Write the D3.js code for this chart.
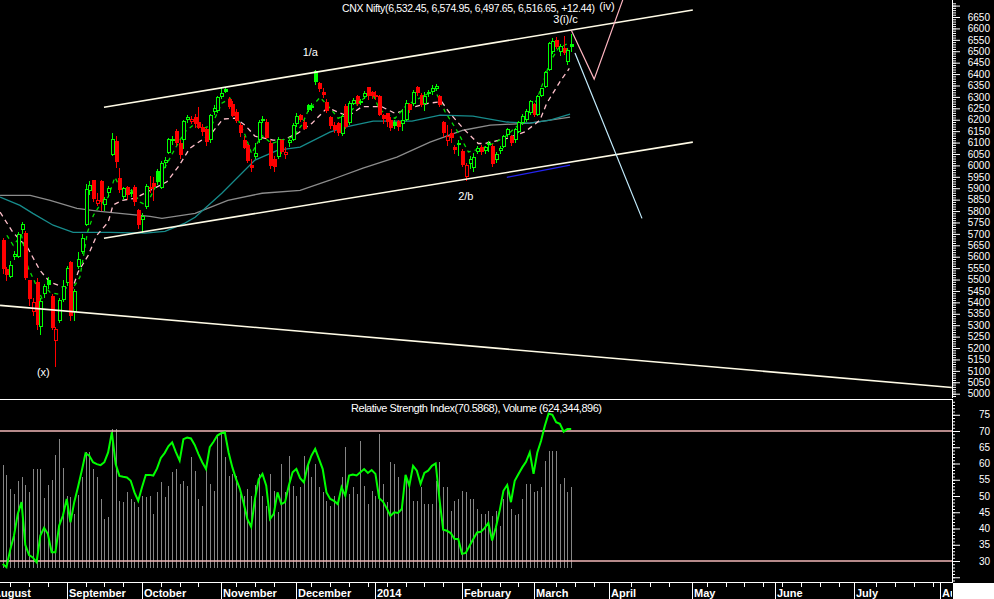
<!DOCTYPE html>
<meta charset="utf-8">
<script src="https://d3js.org/d3.v7.min.js"></script>
<style>
  body { margin: 0; background: #000; }
  text { font-family: "Liberation Sans", Arial, sans-serif; }
</style>
<div id="chart"></div>
<script>

// daily bars, Aug 6 2013 .. Mar 18 2014 (index 0..151)
var open = [5672,5545,5511,5600,5600,5718,5706,5497,5357,5490,
 5290,5435,5500,5430,5230,5320,5410,5485,5575,5357,
 5555,5621,5740,5890,5935,5833,5930,5826,5877,6045,
 6106,5945,5862,5904,5875,5905,5804,5762,5818,5895,
 5925,5975,5900,6010,6055,6105,6150,6100,6110,6198,
 6192,6212,6190,6170,6160,6110,6235,6240,6300,6335,
 6290,6270,6235,6175,6110,6090,6000,6035,6110,6195,
 6190,6100,6030,6035,6110,6045,6096,6110,6180,6220,
 6191,6264,6250,6415,6362,6322,6279,6210,6176,6184,
 6137,6260,6184,6271,6303,6274,6298,6344,6320,6310,
 6303,6220,6228,6198,6191,6195,6180,6201,6267,6268,
 6344,6308,6267,6313,6322,6333,6303,6191,6105,6140,
 6081,6100,6062,5950,6008,5990,6058,6081,6062,6089,
 6086,6023,6062,6081,6132,6128,6111,6147,6184,6198,
 6228,6271,6220,6305,6344,6418,6498,6549,6498,6515,
 6455,6532.45];

var high = [5680,5555,5580,5625,5710,5754,5712,5500,5420,5505,
 5420,5480,5510,5435,5290,5420,5497,5560,5580,5460,
 5620,5700,5920,5930,5935,5880,5935,5860,5910,6142,
 6130,5990,5905,5910,5895,5912,5810,5790,5920,5952,
 5950,5985,6018,6037,6120,6130,6160,6110,6200,6220,
 6218,6225,6255,6180,6165,6225,6265,6305,6342,6340,
 6300,6280,6245,6185,6130,6095,6030,6100,6200,6215,
 6205,6110,6040,6125,6115,6080,6115,6185,6230,6225,
 6200,6270,6274,6420,6365,6340,6290,6215,6190,6190,
 6225,6270,6280,6295,6310,6290,6325,6345,6328,6325,
 6310,6225,6230,6210,6200,6200,6245,6285,6275,6330,
 6346,6315,6320,6330,6350,6355,6310,6195,6175,6160,
 6090,6110,6070,6010,6040,6055,6085,6090,6085,6108,
 6095,6060,6085,6135,6165,6135,6165,6195,6225,6245,
 6285,6275,6310,6340,6412,6540,6560,6562,6530,6565,
 6515,6574.95];

var low = [5525,5494,5505,5585,5595,5700,5500,5386,5340,5280,
 5255,5420,5460,5280,5118,5310,5400,5470,5320,5318,
 5545,5610,5735,5870,5840,5820,5800,5800,5860,6040,
 5990,5880,5850,5850,5860,5820,5720,5705,5810,5880,
 5845,5915,5895,5990,6050,6090,6085,6030,6070,6185,
 6180,6165,6160,6130,6085,6100,6220,6230,6290,6315,
 6245,6210,6185,6125,6070,6010,5972,6030,6100,6185,
 6115,5985,5970,6030,6050,6030,6080,6105,6170,6190,
 6155,6235,6240,6350,6320,6295,6230,6160,6140,6130,
 6130,6160,6175,6265,6260,6265,6290,6285,6290,6285,
 6215,6180,6170,6150,6160,6150,6150,6195,6230,6260,
 6305,6255,6240,6300,6310,6325,6255,6125,6085,6100,
 6050,6040,5995,5933,5985,5970,6050,6045,6050,6060,
 5995,6010,6050,6075,6125,6085,6100,6140,6175,6190,
 6220,6210,6215,6300,6340,6412,6490,6510,6480,6485,
 6440,6497.65];

var close = [5548,5519,5562,5612,5699,5742,5507,5414,5401,5302,
 5408,5471,5476,5287,5285,5409,5471,5550,5341,5448,
 5592,5680,5896,5913,5855,5850,5840,5853,5902,6115,
 6015,5891,5899,5869,5885,5840,5740,5780,5910,5907,
 5906,5928,6010,6025,6115,6117,6098,6045,6195,6212,
 6205,6180,6165,6145,6101,6220,6252,6299,6318,6322,
 6255,6218,6195,6140,6078,6018,5989,6056,6190,6204,
 6122,5999,5995,6115,6059,6057,6110,6176,6217,6201,
 6160,6241,6262,6364,6335,6307,6240,6172,6154,6140,
 6217,6170,6274,6285,6270,6280,6315,6305,6302,6301,
 6221,6205,6191,6162,6174,6168,6200,6273,6242,6321,
 6318,6264,6304,6320,6339,6346,6266,6140,6127,6120,
 6067,6089,6002,6001,6030,6036,6075,6060,6080,6100,
 6004,6050,6078,6130,6160,6096,6160,6190,6218,6240,
 6280,6221,6305,6337,6410,6535,6545,6520,6524,6493,
 6504,6516.65];

// volume, millions of shares
var volume = [790,715,607,568,671,696,637,581,760,760,
 760,535,637,676,868,991,765,555,543,415,
 560,696,888,888,760,696,530,376,389,1068,
 1068,517,504,581,530,504,466,555,543,555,
 415,581,658,543,632,735,760,645,671,632,
 850,748,530,479,760,645,594,1016,1042,850,
 709,722,709,568,555,607,555,637,722,555,
 479,722,594,427,799,581,863,632,555,620,
 863,799,696,799,620,581,517,479,555,504,
 696,927,568,620,568,978,632,491,594,555,
 1029,645,504,811,799,696,466,683,620,517,
 517,620,491,491,491,671,811,620,620,440,
 517,530,594,581,530,530,453,415,415,440,
 402,440,325,530,645,453,407,415,530,645,
 645,581,594,620,824,901,901,901,645,689,
 581,624.344896];

var rsi = [29.1,28.1,33.5,37.8,44.5,48.1,35.0,31.8,31.1,29.6,
 37.8,40.2,38.3,32.7,32.7,40.9,44.0,49.1,41.9,48.1,
 52.8,57.8,63.1,62.4,60.4,59.8,59.5,60.4,63.4,69.6,
 59.8,56.2,55.9,55.7,54.7,51.1,48.5,52.7,56.5,56.5,
 56.3,58.5,61.7,63.2,65.3,66.5,63.5,60.9,67.5,68.0,
 67.7,65.7,62.9,60.4,58.3,65.0,66.7,68.6,69.3,69.6,
 63.4,58.8,55.2,52.2,47.8,42.9,40.5,49.1,55.2,56.8,
 53.2,42.9,44.5,51.1,47.5,48.1,53.2,57.3,58.3,55.5,
 54.2,59.3,62.4,64.5,61.4,58.3,51.1,49.1,48.5,47.5,
 52.7,50.1,56.3,56.6,56.3,57.3,58.3,57.1,58.0,56.8,
 49.3,48.3,46.2,43.9,45.0,44.8,46.0,56.5,53.2,59.3,
 57.8,53.7,57.1,57.8,59.3,60.0,49.1,39.6,39.3,38.6,
 36.8,36.8,32.2,32.5,34.7,36.8,38.8,39.0,40.1,41.7,
 36.3,40.4,45.5,51.6,53.4,48.1,54.7,56.8,58.8,60.5,
 63.4,56.8,63.4,67.0,71.6,75.4,75.0,72.7,72.2,69.8,
 70.6,70.59];

// moving averages: [bar index, price]
var maLong = [[-0.7,5869],[7.3,5869],[12.6,5847],[19.7,5812],[25.8,5799],[39.1,5777],[42.3,5768],
 [51.1,5790],[59.8,5847],[68.9,5878],[79,5891],[86.9,5935],[95.7,5988],[104.7,6036],
 [113.5,6102],[122.3,6154],[129.5,6176],[140,6185],[150.7,6211]];
var maMid = [[-0.7,5861],[4.6,5825],[8,5790],[13.4,5738],[18.7,5707],[28.5,5707],[37.8,5703],
 [43.1,5711],[48.4,5747],[51.1,5773],[58.2,5878],[67,6023],[73.1,6067],[79,6080],
 [86.9,6146],[90.9,6168],[98.4,6194],[108.7,6194],[116.2,6220],[124.9,6216],
 [133.9,6190],[140,6185],[145.4,6198],[150.7,6225]];
var maFast = [[1.1,5694],[2.8,5650],[5,5694],[6.8,5549],[8.1,5505],[10.4,5418],[11.7,5461],
 [12.6,5444],[16.1,5431],[18.3,5453],[20.5,5510],[21.4,5597],[22.5,5707],[24.1,5782],
 [25.8,5826],[28,5861],[29.8,5948],[32,5878],[34.3,5891],[36.5,5839],[38.2,5826],
 [42.7,5979],[45.8,6074],[48.4,6147],[50.6,6176],[53.3,6162],[55.5,6176],[58.2,6272],
 [60.4,6293],[62.2,6213],[64.4,6132],[66.1,6052],[68.8,6132],[71.4,6096],[74.1,6111],
 [77.2,6125],[79.4,6176],[81.2,6242],[84.3,6298],[87.4,6242],[89.1,6206],[91.8,6228],
 [95.4,6286],[98,6322],[100.2,6242],[104.2,6206],[107.3,6264],[111.3,6300],[114.8,6330],
 [117.5,6235],[120.6,6154],[123.7,6059],[127.2,6074],[130.3,6096],[133.4,6125],
 [136.9,6176],[140,6242],[141.8,6286],[143.6,6366],[145.4,6454],[147.6,6513],[150.2,6535]];
var maSlow = [[-0.7,5795],[2.7,5707],[6.7,5637],[9.9,5540],[12.6,5488],[17.1,5461],[18.4,5453],
 [20,5532],[22.7,5606],[25,5694],[28,5751],[29.3,5826],[31.7,5847],[35.1,5856],
 [43.6,5928],[46.6,5993],[49.7,6075],[55.5,6141],[58.5,6203],[61.7,6207],[64.4,6176],
 [67,6128],[71.8,6111],[74.4,6111],[78.4,6141],[82.1,6184],[85.6,6242],[87.4,6245],
 [91.7,6215],[95.4,6257],[100.7,6257],[104.2,6228],[109.5,6257],[113,6272],[116.6,6279],
 [118.8,6228],[122.3,6162],[126.3,6096],[128.1,6096],[133.9,6118],[138.7,6147],
 [142.7,6198],[144.5,6272],[148.3,6374],[150.5,6425]];

// drawn trend lines: [bar index, price]
var channelTop = [[26.9,6255],[183.3,6681]];
var channelBottom = [[26.9,5681],[183.3,6102]];
var longLine = [[-0.7,5387],[252.1,5027]];
var pathUp = [[151,6593],[157.1,6378],[164.7,6725]];
var pathDown = [[152,6492],[169.8,5768]];
var supportLine = [[133.9,5948],[150.7,6001]];

var waveLabels = ["1/a","2/b","(x)","3(i)/c","(iv)"];
var waveAt = [[81.7,6496],[123,5865],[10.8,5093],[149.5,6641],[160.5,6700]];

var months = ["August","September","October","November","December","2014","February","March","April","May","June","July","August"];
var monthStart = [-3,17,37,58,78,99,122,141,161,183,205,226,249];

var title = "CNX Nifty(6,532.45, 6,574.95, 6,497.65, 6,516.65, +12.44)";
var rsiTitle = "Relative Strength Index(70.5868), Volume (624,344,896)";

// layout
var W = 994, H = 599, axisX = 952;

var svg = d3.select("#chart").append("svg")
  .attr("width", W).attr("height", H)
  .style("display", "block").style("background", "#000");

var defs = svg.append("defs");
defs.append("clipPath").attr("id", "clipMain").append("rect")
  .attr("x", 0).attr("y", 0).attr("width", axisX).attr("height", 398);
defs.append("clipPath").attr("id", "clipRsi").append("rect")
  .attr("x", 0).attr("y", 400).attr("width", axisX).attr("height", 182);
defs.append("clipPath").attr("id", "clipDates").append("rect")
  .attr("x", 0).attr("y", 582).attr("width", axisX).attr("height", 17);

var x = d3.scaleLinear().domain([0, 151]).range([2.7, 571.2]);
var y = d3.scaleLinear().domain([5000, 6650]).range([393.7, 17]);
var yR = d3.scaleLinear().domain([30, 70]).range([561, 431]);
var yV = d3.scaleLinear().domain([0, 1000]).range([568, 437.8]);

var priceLine = d3.line().x(function(d) { return x(d[0]); }).y(function(d) { return y(d[1]); });

var main = svg.append("g").attr("clip-path", "url(#clipMain)");

// moving averages
main.append("path").attr("d", priceLine(maLong))
  .attr("fill", "none").attr("stroke", "#8c8c8c").attr("stroke-width", 1.3);
main.append("path").attr("d", priceLine(maMid))
  .attr("fill", "none").attr("stroke", "#178c8c").attr("stroke-width", 1.3);
main.append("path").attr("d", priceLine(maSlow))
  .attr("fill", "none").attr("stroke", "#ffc0cb").attr("stroke-width", 1.3)
  .attr("stroke-dasharray", "5,4");
main.append("path").attr("d", priceLine(maFast))
  .attr("fill", "none").attr("stroke", "#00e000").attr("stroke-width", 1.3)
  .attr("stroke-dasharray", "4,4");

// candles (hollow when close > open, red when close < previous close)
var cg = main.append("g").attr("shape-rendering", "crispEdges");
close.forEach(function(c, i) {
  var o = open[i], up = i > 0 ? c >= close[i - 1] : c >= o;
  var col = up ? "#00ff00" : "#ff0000";
  var px = Math.round(x(i));
  var top = Math.round(y(Math.max(o, c))), bot = Math.round(y(Math.min(o, c)));
  cg.append("line").attr("x1", px + 0.5).attr("x2", px + 0.5)
    .attr("y1", y(high[i])).attr("y2", top).attr("stroke", col);
  cg.append("line").attr("x1", px + 0.5).attr("x2", px + 0.5)
    .attr("y1", bot).attr("y2", y(low[i])).attr("stroke", col);
  if (c > o) {
    cg.append("rect").attr("x", px - 0.5).attr("y", top + 0.5)
      .attr("width", 3).attr("height", Math.max(0, bot - top - 1))
      .attr("fill", "#000").attr("stroke", col);
  } else {
    cg.append("rect").attr("x", px - 1).attr("y", top)
      .attr("width", 4).attr("height", Math.max(1, bot - top))
      .attr("fill", col);
  }
});

// trend lines
[channelTop, channelBottom, longLine].forEach(function(l) {
  main.append("path").attr("d", priceLine(l))
    .attr("fill", "none").attr("stroke", "#fffbe6").attr("stroke-width", 1.6);
});
main.append("path").attr("d", priceLine(pathUp))
  .attr("fill", "none").attr("stroke", "#ffb6c1").attr("stroke-width", 1.2);
main.append("path").attr("d", priceLine(pathDown))
  .attr("fill", "none").attr("stroke", "#c4eeff").attr("stroke-width", 1.2);
main.append("path").attr("d", priceLine(supportLine))
  .attr("fill", "none").attr("stroke", "#2424f0").attr("stroke-width", 1.3);

svg.append("text").text(title)
  .attr("x", 342).attr("y", 11.5).attr("fill", "#fff").attr("font-size", 10.5)
  .attr("textLength", 253).attr("lengthAdjust", "spacing");

// wave counts
waveLabels.forEach(function(t, k) {
  main.append("text").text(t)
    .attr("x", x(waveAt[k][0])).attr("y", y(waveAt[k][1]) + 4)
    .attr("text-anchor", "middle").attr("fill", "#fff").attr("font-size", 11);
});

// price axis
svg.append("line").attr("x1", axisX + 0.5).attr("x2", axisX + 0.5)
  .attr("y1", 0).attr("y2", 398).attr("stroke", "#fff");
var pMinor = svg.append("g").attr("transform", "translate(" + axisX + ",0)")
  .call(d3.axisRight(y).tickValues(d3.range(4990, 6711, 10)).tickSize(4).tickFormat(""));
var pMajor = svg.append("g").attr("transform", "translate(" + axisX + ",0)")
  .call(d3.axisRight(y).tickValues(d3.range(5000, 6701, 50)).tickSize(8)
    .tickFormat(function(d) { return d <= 6650 ? d : ""; }));
[pMinor, pMajor].forEach(function(a) {
  a.select(".domain").remove();
  a.selectAll("line").attr("stroke", "#fff");
});
pMajor.selectAll("text").attr("x", 38).attr("text-anchor", "end")
  .attr("fill", "#fff").attr("font-size", 10)
  .attr("font-family", "Liberation Sans, Arial, sans-serif");

// lower panel
svg.append("line").attr("x1", 0).attr("x2", axisX).attr("y1", 399.5).attr("y2", 399.5)
  .attr("stroke", "#fff");

var low2 = svg.append("g").attr("clip-path", "url(#clipRsi)");
low2.append("g").attr("shape-rendering", "crispEdges").selectAll("line")
  .data(volume).enter().append("line")
  .attr("x1", function(d, i) { return Math.round(x(i)) + 0.5; })
  .attr("x2", function(d, i) { return Math.round(x(i)) + 0.5; })
  .attr("y1", yV(0))
  .attr("y2", function(d) { return yV(d); })
  .attr("stroke", "#858585");

[70, 30].forEach(function(v) {
  low2.append("line").attr("x1", 0).attr("x2", axisX)
    .attr("y1", yR(v)).attr("y2", yR(v))
    .attr("stroke", "#f2b8b8").attr("stroke-width", 1.3);
});

low2.append("path")
  .attr("d", d3.line().x(function(d, i) { return x(i); }).y(function(d) { return yR(d); })(rsi))
  .attr("fill", "none").attr("stroke", "#00ff00").attr("stroke-width", 2);

svg.append("text").text(rsiTitle)
  .attr("x", 351).attr("y", 412).attr("fill", "#fff").attr("font-size", 11)
  .attr("textLength", 251).attr("lengthAdjust", "spacing");

// rsi axis
svg.append("line").attr("x1", axisX + 0.5).attr("x2", axisX + 0.5)
  .attr("y1", 399).attr("y2", 583).attr("stroke", "#fff");
var rMinor = svg.append("g").attr("transform", "translate(" + axisX + ",0)")
  .call(d3.axisRight(yR).tickValues(d3.range(24, 80, 1)).tickSize(3).tickFormat(""));
var rMajor = svg.append("g").attr("transform", "translate(" + axisX + ",0)")
  .call(d3.axisRight(yR).tickValues(d3.range(25, 80, 5)).tickSize(8)
    .tickFormat(function(d) { return d >= 30 && d <= 75 ? d : ""; }));
[rMinor, rMajor].forEach(function(a) {
  a.select(".domain").remove();
  a.selectAll("line").attr("stroke", "#fff");
});
rMajor.selectAll("text").attr("x", 38).attr("text-anchor", "end")
  .attr("fill", "#fff").attr("font-size", 10)
  .attr("font-family", "Liberation Sans, Arial, sans-serif");

// date axis
svg.append("line").attr("x1", 0).attr("x2", axisX + 1).attr("y1", 582.5).attr("y2", 582.5)
  .attr("stroke", "#fff");
var dates = svg.append("g").attr("clip-path", "url(#clipDates)").attr("shape-rendering", "crispEdges");
d3.range(2, 252, 5).forEach(function(i) {
  if (monthStart.some(function(m) { return Math.abs(m - i) < 2; })) return;
  dates.append("line").attr("x1", Math.round(x(i)) + 0.5).attr("x2", Math.round(x(i)) + 0.5)
    .attr("y1", 582).attr("y2", 587).attr("stroke", "#fff");
});
months.forEach(function(m, k) {
  var px = Math.round(x(monthStart[k])) + 0.5;
  dates.append("line").attr("x1", px).attr("x2", px)
    .attr("y1", 582).attr("y2", 599).attr("stroke", "#fff");
  dates.append("text").text(m)
    .attr("x", px + 1.5).attr("y", 597)
    .attr("fill", "#fff").attr("font-size", 11).attr("font-weight", "bold");
});

svg.append("rect").attr("x", axisX + 1).attr("y", 583)
  .attr("width", W - axisX - 1).attr("height", H - 583).attr("fill", "#fff");

</script>
